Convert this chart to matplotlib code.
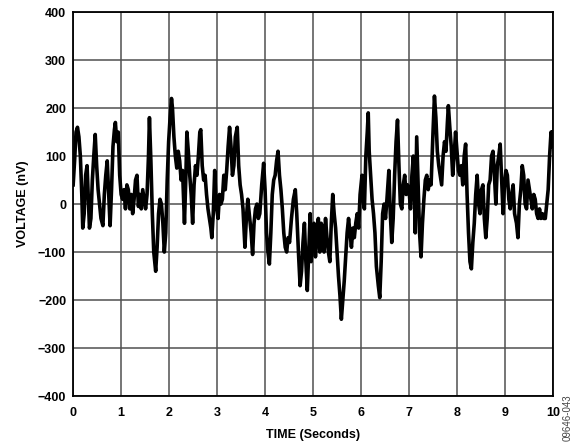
import numpy as np
import matplotlib
matplotlib.use("Agg")
import matplotlib.pyplot as plt

# valores (tempo em s, tensao em nV)
tempo = [0.00, 0.03, 0.06, 0.09, 0.12, 0.15, 0.18, 0.20, 0.23, 0.26, 0.29, 0.31, 0.34, 0.37,
         0.40, 0.43, 0.46, 0.49, 0.52, 0.55, 0.58, 0.62, 0.65, 0.68, 0.71, 0.74, 0.77, 0.80,
         0.83, 0.86, 0.88, 0.91, 0.94, 0.97, 1.00, 1.03, 1.06, 1.09, 1.12, 1.15, 1.18, 1.21,
         1.24, 1.27, 1.30, 1.33, 1.36, 1.39, 1.42, 1.45, 1.48, 1.51, 1.54, 1.57, 1.59, 1.62,
         1.65, 1.68, 1.72, 1.75, 1.78, 1.81, 1.84, 1.87, 1.90, 1.93, 1.96, 1.99, 2.02, 2.05,
         2.07, 2.10, 2.13, 2.16, 2.19, 2.22, 2.25, 2.28, 2.32, 2.35, 2.37, 2.40, 2.43, 2.46,
         2.49, 2.52, 2.55, 2.58, 2.61, 2.64, 2.66, 2.69, 2.72, 2.75, 2.78, 2.81, 2.84, 2.87,
         2.89, 2.92, 2.95, 2.98, 3.02, 3.05, 3.08, 3.11, 3.14, 3.17, 3.20, 3.23, 3.26, 3.29,
         3.32, 3.35, 3.38, 3.42, 3.45, 3.48, 3.51, 3.54, 3.58, 3.61, 3.64, 3.67, 3.71, 3.74,
         3.77, 3.80, 3.83, 3.86, 3.89, 3.93, 3.97, 4.00, 4.03, 4.06, 4.09, 4.12, 4.15, 4.18,
         4.21, 4.24, 4.27, 4.30, 4.33, 4.36, 4.39, 4.42, 4.45, 4.48, 4.51, 4.55, 4.59, 4.63,
         4.66, 4.70, 4.73, 4.76, 4.79, 4.82, 4.85, 4.88, 4.91, 4.94, 4.96, 4.99, 5.02, 5.05,
         5.08, 5.11, 5.14, 5.17, 5.20, 5.23, 5.26, 5.29, 5.32, 5.35, 5.38, 5.41, 5.44, 5.47,
         5.50, 5.53, 5.56, 5.59, 5.62, 5.65, 5.68, 5.71, 5.74, 5.77, 5.80, 5.83, 5.86, 5.89,
         5.92, 5.95, 5.98, 6.02, 6.04, 6.07, 6.10, 6.13, 6.15, 6.17, 6.20, 6.23, 6.26, 6.29,
         6.32, 6.36, 6.39, 6.42, 6.45, 6.48, 6.51, 6.54, 6.58, 6.61, 6.64, 6.67, 6.70, 6.73,
         6.76, 6.79, 6.82, 6.85, 6.88, 6.91, 6.94, 6.97, 7.00, 7.03, 7.06, 7.09, 7.13, 7.16,
         7.19, 7.22, 7.25, 7.28, 7.31, 7.34, 7.37, 7.40, 7.43, 7.46, 7.50, 7.53, 7.56, 7.59,
         7.62, 7.65, 7.68, 7.71, 7.74, 7.77, 7.80, 7.82, 7.85, 7.88, 7.91, 7.94, 7.97, 8.00,
         8.03, 8.06, 8.09, 8.12, 8.15, 8.18, 8.21, 8.24, 8.27, 8.30, 8.33, 8.36, 8.39, 8.42,
         8.45, 8.48, 8.51, 8.54, 8.57, 8.60, 8.63, 8.66, 8.69, 8.72, 8.75, 8.78, 8.81, 8.84,
         8.87, 8.90, 8.93, 8.96, 8.99, 9.02, 9.05, 9.08, 9.11, 9.14, 9.17, 9.20, 9.24, 9.27,
         9.30, 9.33, 9.36, 9.39, 9.42, 9.45, 9.48, 9.51, 9.54, 9.57, 9.60, 9.63, 9.66, 9.69,
         9.72, 9.75, 9.78, 9.81, 9.84, 9.87, 9.90, 9.93, 9.96, 9.98, 10.00]

tensao = [40, 90, 150, 160, 140, 100, 20, -50, -20, 60, 80, 30, -50, -30,
          50, 100, 145, 80, 30, 0, -30, -45, 20, 60, 90, 20, -45, 30,
          120, 155, 170, 130, 150, 60, 20, 10, 30, -10, 40, 30, -10, 20,
          -20, 10, 50, 60, -5, 20, -10, 30, 10, -10, 20, 100, 180, 90,
          -20, -100, -140, -90, -20, 10, 0, -40, -100, -60, 50, 130, 180, 220,
          200, 140, 100, 75, 110, 90, 50, 70, -40, 60, 150, 110, 60, 20,
          -40, 40, 80, 60, 100, 150, 155, 80, 50, 60, 20, -10, -30, -50,
          -70, -20, 70, 0, -30, 20, 0, 10, 60, 30, 70, 120, 160, 120,
          60, 80, 140, 160, 80, 40, 20, -10, -90, -30, 10, -20, -60, -105,
          -40, -10, 0, -30, -20, 40, 85, 30, -60, -100, -125, -60, 20, 50,
          60, 90, 110, 60, 30, -10, -60, -90, -100, -70, -80, -30, 10, 30,
          -20, -110, -170, -140, -80, -40, -120, -180, -100, -20, -120, -50, -40, -110,
          -60, -30, -100, -40, -50, -100, -30, -70, -100, -120, -40, 20, -20, -50,
          -100, -150, -190, -240, -200, -160, -110, -60, -30, -60, -90, -50, -70, -40,
          -20, -50, 20, 60, 10, -10, 100, 150, 190, 110, 60, 10, -20, -60,
          -130, -170, -195, -120, -20, 0, -30, 10, 70, -20, -80, -30, 60, 130,
          175, 80, 0, -10, 40, 60, 20, 40, 30, -10, 60, 100, -60, 140,
          40, -60, -110, -40, 10, 50, 60, 30, 50, 40, 150, 225, 180, 110,
          80, 60, 40, 100, 130, 110, 170, 205, 160, 120, 60, 100, 150, 110,
          70, 60, 80, 40, 100, 125, 20, -60, -120, -135, -80, -40, 20, 60,
          0, -20, 30, 40, -30, -70, -30, 40, 50, 100, 110, 60, 0, 80,
          100, 125, 50, -20, 40, 70, 60, 10, -10, 20, 40, -20, -40, -70,
          0, 30, 80, 60, 0, -10, 50, 30, 10, -10, 20, 10, -20, -30,
          -10, -30, -20, -30, -30, 0, 30, 100, 150, 120, 150]

ticksX = list(range(0, 11))
ticksY = list(range(-400, 401, 100))
labelsY = [str(v).replace("-", "\u2212") for v in ticksY]

plt.rcParams['font.family'] = ['Liberation Sans', 'DejaVu Sans']

fig = plt.figure(figsize=(5.76, 4.48), dpi=100)
ax = fig.add_axes([0.127, 0.116, 0.833, 0.857])

ax.plot(tempo, tensao, color="black", linewidth=2.6, solid_joinstyle="round")

ax.set_xlim(0, 10)
ax.set_ylim(-400, 400)
ax.set_xticks(ticksX)
ax.set_yticks(ticksY)
ax.set_yticklabels(labelsY)
ax.grid(True, color="#505050", linewidth=1.1)
ax.set_axisbelow(True)
ax.tick_params(axis="y", length=0, pad=5, labelsize=9)
ax.tick_params(axis="x", length=0, pad=8, labelsize=9)
for lab in ax.get_xticklabels() + ax.get_yticklabels():
    lab.set_fontweight("bold")
for sp in ax.spines.values():
    sp.set_linewidth(1.3)

ax.set_xlabel("TIME (Seconds)", fontsize=9, fontweight="bold", labelpad=7)
ax.set_ylabel("VOLTAGE (nV)", fontsize=9, fontweight="bold", labelpad=6)

fig.text(0.985, 0.068, "09646-043", rotation=90, fontsize=7, color="#444444",
         ha="center", va="center")

plt.savefig("out.png", dpi=100)
